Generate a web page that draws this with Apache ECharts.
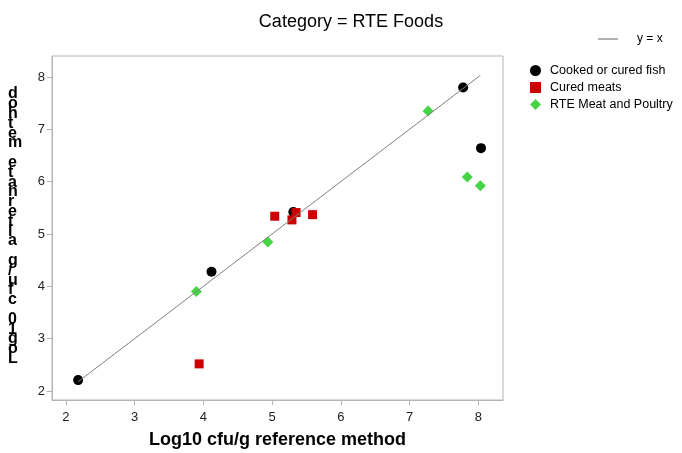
<!DOCTYPE html>
<html>
<head>
<meta charset="utf-8">
<script src="https://cdn.jsdelivr.net/npm/echarts@6/dist/echarts.min.js"></script>
<style>
  html, body { margin: 0; padding: 0; background: #fff; }
  #chart { width: 682px; height: 453px; }
</style>
</head>
<body>
<div id="chart"></div>
<script>
// Log10 cfu/g: reference method (x) vs alternate method (y)
const fishX = [2.18, 4.12, 5.31, 7.78, 8.04];
const fishY = [2.21, 4.28, 5.42, 7.80, 6.64];

const meatX = [3.94, 5.04, 5.29, 5.35, 5.59];
const meatY = [2.52, 5.34, 5.27, 5.41, 5.37];

const poultryX = [3.90, 4.94, 7.27, 7.84, 8.03];
const poultryY = [3.90, 4.85, 7.35, 6.09, 5.92];

const identityX = [2.18, 8.03];

const xTicks = [2, 3, 4, 5, 6, 7, 8];
const yTicks = [2, 3, 4, 5, 6, 7, 8];

const yTitle = 'Log10 cfu/g alternate method';
const xTitle = 'Log10 cfu/g reference method';

const pairs = (xs, ys) => xs.map((x, i) => [x, ys[i]]);

const chart = echarts.init(document.getElementById('chart'));
const font = 'Arial, "Liberation Sans", sans-serif';

chart.setOption({
  animation: false,
  backgroundColor: '#ffffff',
  title: {
    text: 'Category = RTE Foods',
    left: 346, top: 8, textAlign: 'center',
    textStyle: { fontFamily: font, fontSize: 18, fontWeight: 'normal', color: '#000' }
  },
  legend: [
    {
      data: ['y = x'],
      orient: 'vertical',
      left: 593, top: 28,
      itemWidth: 20, itemHeight: 10,
      icon: 'path://M0,5L20,5L20,6L0,6Z',
      textStyle: { fontFamily: font, fontSize: 12, color: '#000', padding: [0, 0, 0, 14] }
    },
    {
      data: ['Cooked or cured fish', 'Cured meats', 'RTE Meat and Poultry'],
      orient: 'vertical',
      left: 525, top: 59,
      itemGap: 4, itemWidth: 11, itemHeight: 11,
      textStyle: { fontFamily: font, fontSize: 12.5, color: '#000', padding: [0, 0, 0, 4] }
    }
  ],
  grid: {
    left: 52, right: 179, top: 56, bottom: 53,
    outerBoundsMode: 'none',
    show: true, borderColor: '#b4b4b4', borderWidth: 1
  },
  xAxis: {
    type: 'value', min: 1.8, max: 8.36,
    name: xTitle, nameLocation: 'middle', nameGap: 31,
    nameTextStyle: { fontFamily: font, fontSize: 18, fontWeight: 'bold', color: '#000' },
    axisLine: { show: true, lineStyle: { color: '#b4b4b4' } },
    axisTick: { show: true, length: 5, customValues: xTicks, lineStyle: { color: '#b4b4b4' } },
    axisLabel: { customValues: xTicks, fontFamily: font, fontSize: 13, color: '#222', margin: 11 },
    splitLine: { show: false }
  },
  yAxis: {
    type: 'value', min: 1.83, max: 8.40,
    axisLine: { show: true, lineStyle: { color: '#b4b4b4' } },
    axisTick: { show: true, length: 5, customValues: yTicks, lineStyle: { color: '#b4b4b4' } },
    axisLabel: { customValues: yTicks, fontFamily: font, fontSize: 13, color: '#222', margin: 7 },
    splitLine: { show: false }
  },
  graphic: [{
    type: 'text',
    left: 8, top: 86,
    style: {
      text: yTitle.split('').reverse().join('\n'),
      font: 'bold 16px ' + font,
      fill: '#000',
      lineHeight: 9.8,
      align: 'center'
    }
  }],
  series: [
    {
      name: 'Cooked or cured fish', type: 'scatter',
      data: pairs(fishX, fishY),
      symbol: 'circle', symbolSize: 10,
      itemStyle: { color: '#000000', opacity: 1 }, z: 3
    },
    {
      name: 'Cured meats', type: 'scatter',
      data: pairs(meatX, meatY),
      symbol: 'rect', symbolSize: 9,
      itemStyle: { color: '#cc0000', opacity: 1 }, z: 4
    },
    {
      name: 'RTE Meat and Poultry', type: 'scatter',
      data: pairs(poultryX, poultryY),
      symbol: 'diamond', symbolSize: 11,
      itemStyle: { color: '#44d444', opacity: 1 }, z: 2
    },
    {
      name: 'y = x', type: 'line',
      data: pairs(identityX, identityX),
      symbol: 'none',
      lineStyle: { color: '#808080', width: 1 },
      itemStyle: { color: '#606060' },
      z: 5
    }
  ]
});
</script>
</body>
</html>
